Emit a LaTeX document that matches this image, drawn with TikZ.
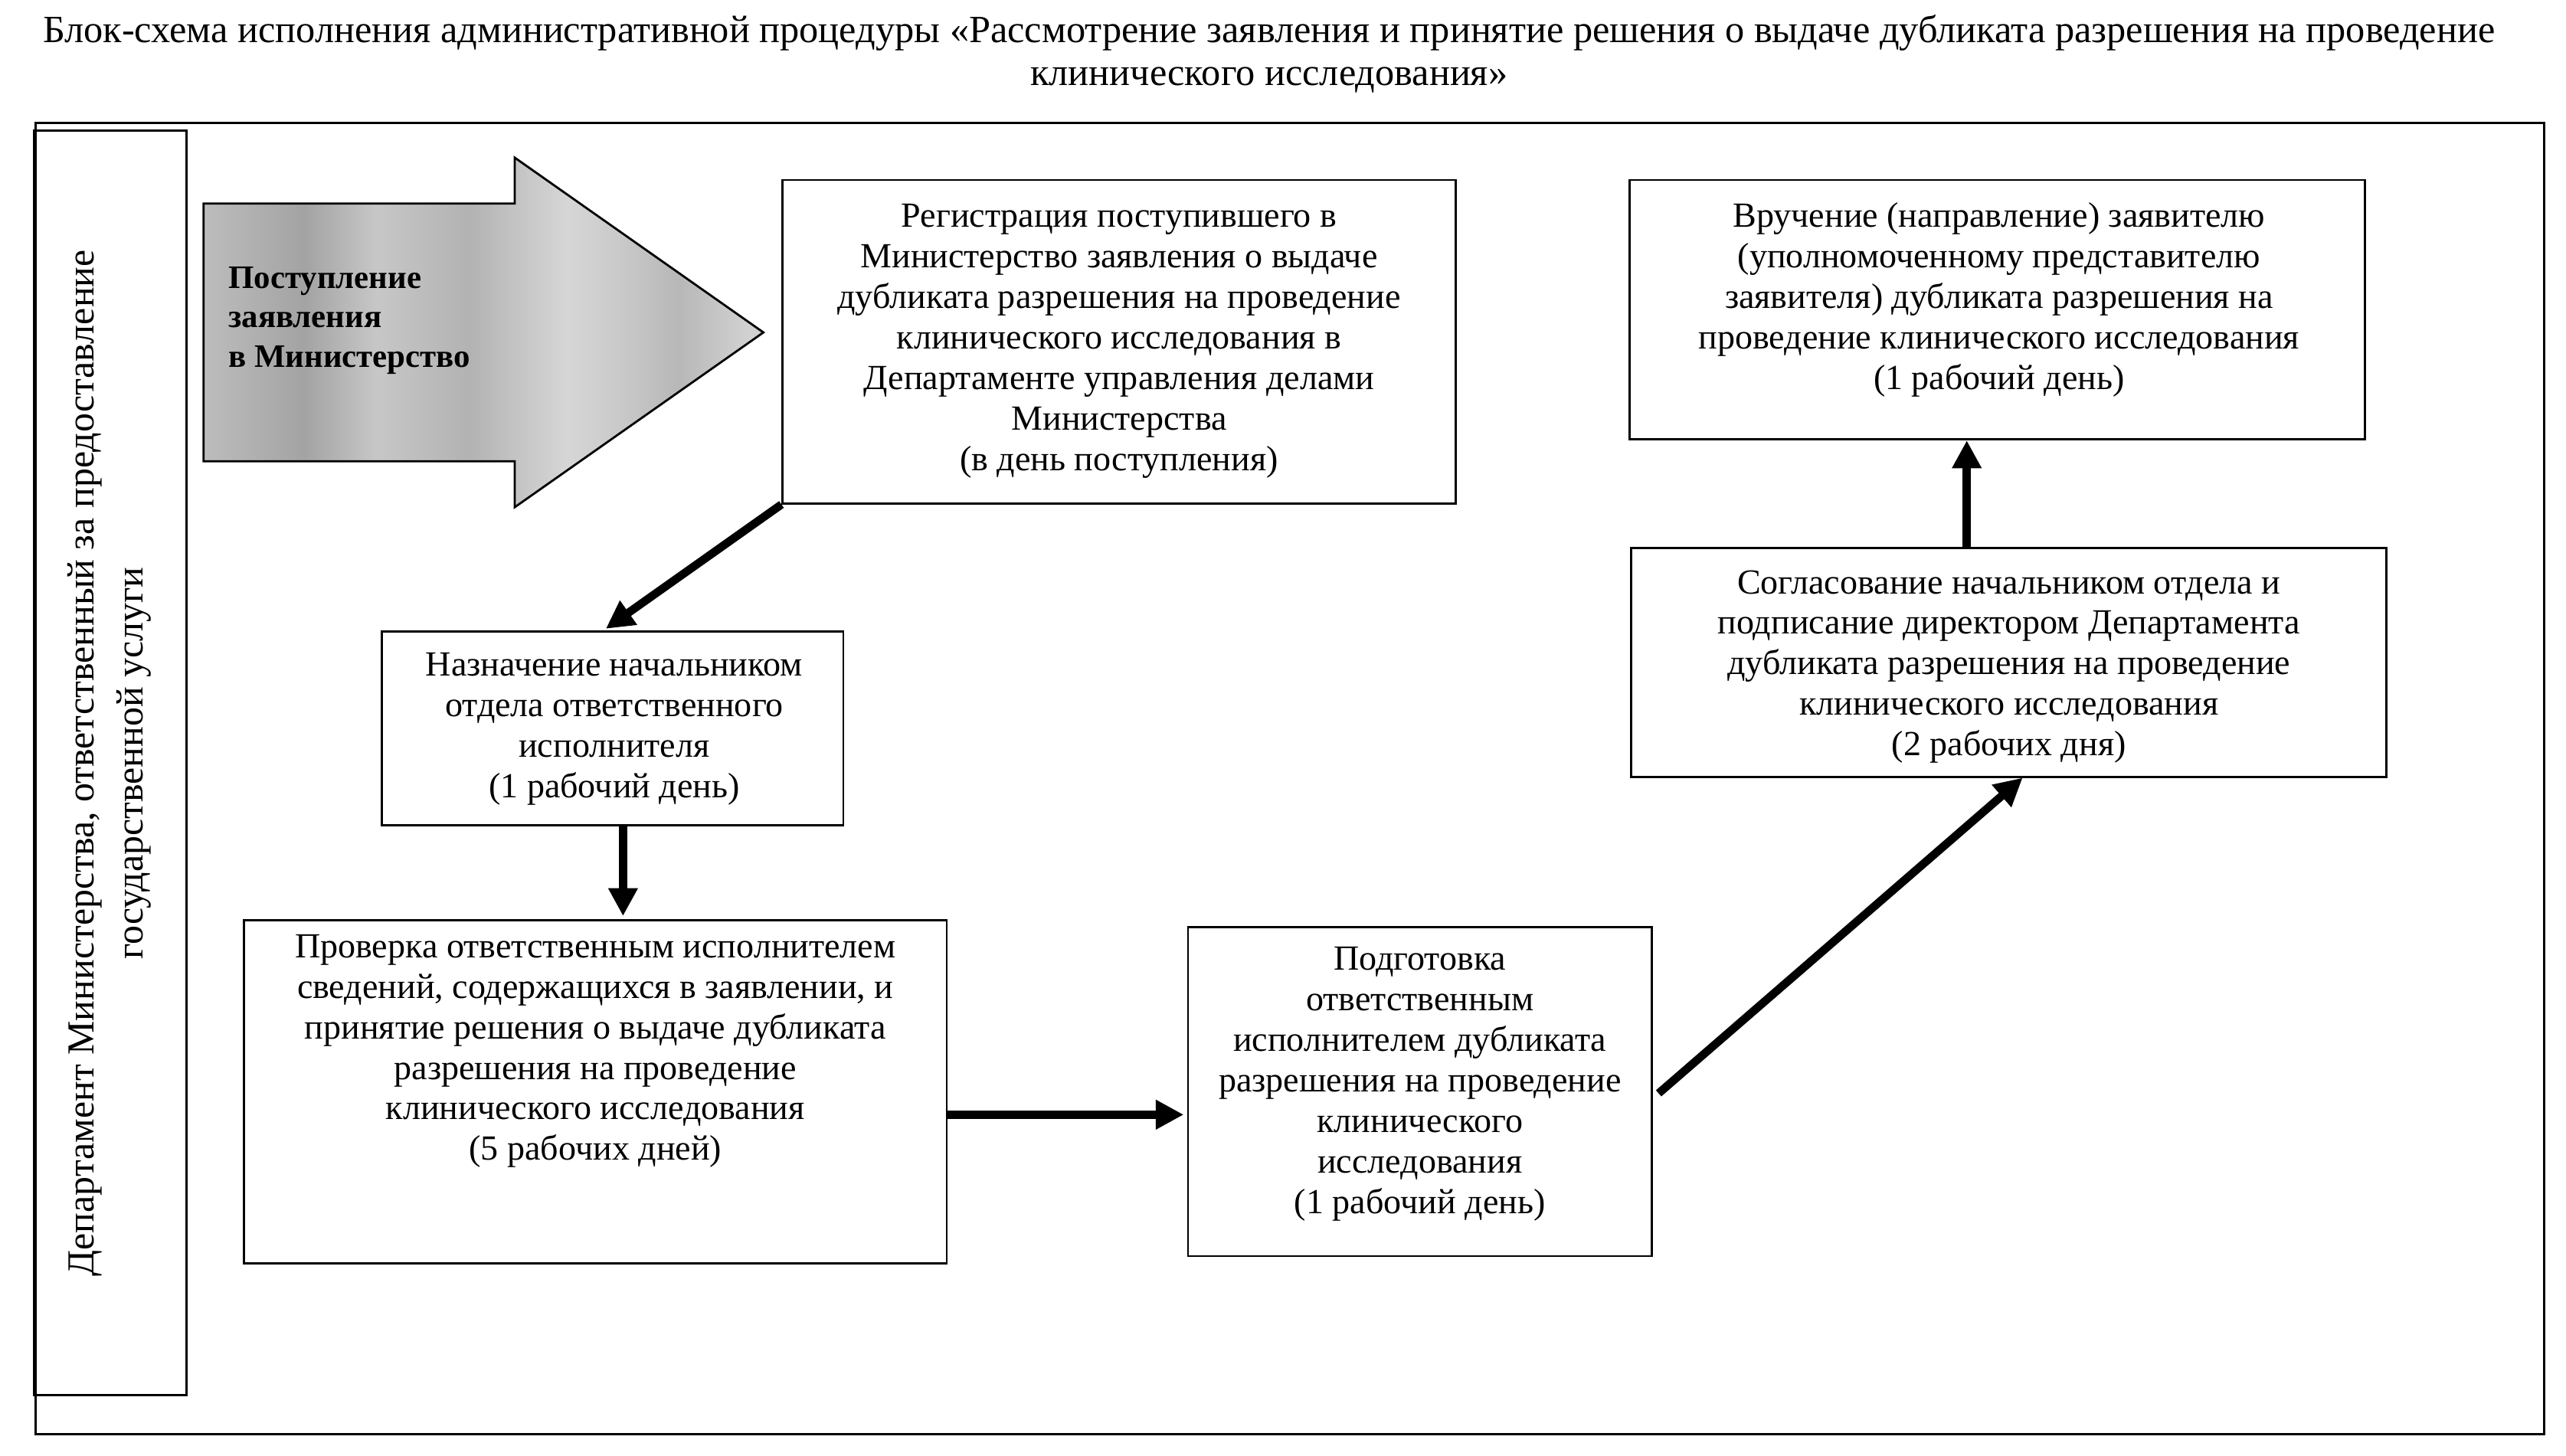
\documentclass[tikz,border=0pt]{standalone}
\usepackage{fontspec}
\setmainfont{Liberation Serif}
\usetikzlibrary{arrows.meta,calc}
\newcommand\bodyfont{\fontsize{21.5}{24.7}\selectfont}
\newcommand\titlefont{\fontsize{23.5}{26}\selectfont}
\newcommand\lanefont{\fontsize{23.3}{30}\selectfont}
\newcommand\arrowfont{\bfseries\fontsize{20}{24}\selectfont}
\pgfdeclarehorizontalshading{arrowtex}{100bp}{%
  color(0bp)=(black!38);
  color(6bp)=(black!42);
  color(12bp)=(black!28);
  color(19.4bp)=(black!40);
  color(25bp)=(black!26);
  color(34bp)=(black!36);
  color(40.5bp)=(black!22);
  color(48.7bp)=(black!30);
  color(57.5bp)=(black!16);
  color(63bp)=(black!22);
  color(67.4bp)=(black!28);
  color(73.6bp)=(black!18);
  color(81bp)=(black!22);
  color(90bp)=(black!14);
  color(100bp)=(black!12)}
\begin{document}
\begin{tikzpicture}[x=1pt,y=-1pt,
  box/.style={draw, line width=1.3pt, inner sep=0pt, anchor=north west},
  txt/.style={align=center, inner sep=0pt, anchor=north, font=\bodyfont},
  conn/.style={line width=5pt, -{Triangle[length=17pt,width=17pt]}}]
\useasboundingbox (0,0) rectangle (1563,886.5);

% title
\node[align=center, inner sep=0pt, anchor=north, font=\titlefont] (title) at (773,7.6)
  {\strut Блок-схема исполнения административной процедуры «Рассмотрение заявления и принятие решения о выдаче дубликата разрешения на проведение\\клинического исследования»};

% outer frame and lane
\node[box, line width=1.4pt, minimum width=1528pt, minimum height=799pt] (outer) at (21,74) {};
\node[box, line width=1.4pt, minimum width=93pt, minimum height=770pt] (lanebox) at (20,79) {};
\node[rotate=90, align=center, inner sep=0pt, font=\lanefont] (lane) at (66.5,465)
  {Департамент Министерства, ответственный за предоставление\\государственной услуги};

% big incoming arrow
\shade[shading=arrowtex]
  (124,124) -- (313.5,124) -- (313.5,96) -- (465,202.5) -- (313.5,309) -- (313.5,281) -- (124,281) -- cycle;
\draw[line width=1.3pt, line join=miter]
  (124,124) -- (313.5,124) -- (313.5,96) -- (465,202.5) -- (313.5,309) -- (313.5,281) -- (124,281) -- cycle;
\node[align=left, inner sep=0pt, anchor=north west, font=\arrowfont] (intext) at (139,158.5)
  {\strut Поступление\\заявления\\в Министерство};

% boxes
\node[box, minimum width=410pt, minimum height=197pt] (b1) at (476,109) {};
\node[txt] (t1) at ([yshift=-11.8pt]b1.north)
  {\strut Регистрация поступившего в\\Министерство заявления о выдаче\\дубликата разрешения на проведение\\клинического исследования в\\Департаменте управления делами\\Министерства\\(в день поступления)};

\node[box, minimum width=448pt, minimum height=158pt] (b5) at (992,109) {};
\node[txt] (t5) at ([yshift=-11.8pt, xshift=1pt]b5.north)
  {\strut Вручение (направление) заявителю\\(уполномоченному представителю\\заявителя) дубликата разрешения на\\проведение клинического исследования\\(1 рабочий день)};

\node[box, minimum width=281pt, minimum height=118pt] (b2) at (232,384) {};
\node[txt] (t2) at ([yshift=-10.3pt, xshift=1pt]b2.north)
  {\strut Назначение начальником\\отдела ответственного\\исполнителя\\(1 рабочий день)};

\node[box, minimum width=428pt, minimum height=209pt] (b3) at (148,560) {};
\node[txt] (t3) at ([yshift=-5.8pt]b3.north)
  {\strut Проверка ответственным исполнителем\\сведений, содержащихся в заявлении, и\\принятие решения о выдаче дубликата\\разрешения на проведение\\клинического исследования\\(5 рабочих дней)};

\node[box, minimum width=282.5pt, minimum height=200.5pt] (b4) at (723,564) {};
\node[txt] (t4) at ([yshift=-9.6pt]b4.north)
  {\strut Подготовка\\ответственным\\исполнителем дубликата\\разрешения на проведение\\клинического\\исследования\\(1 рабочий день)};

\node[box, minimum width=460pt, minimum height=139.5pt] (b6) at (993,333) {};
\node[txt] (t6) at ([yshift=-11.1pt]b6.north)
  {\strut Согласование начальником отдела и\\подписание директором Департамента\\дубликата разрешения на проведение\\клинического исследования\\(2 рабочих дня)};

% connectors
\draw[conn] (b1.south west) -- ($(b2.north west)+(137,-1)$);
\draw[conn] ($(b2.south west)+(147.5,0)$) -- ($(b3.north west)+(231.5,-2)$);
\draw[conn] ($(b3.north east)+(0,119)$) -- ($(b4.north west)+(-2,115)$);
\draw[conn] ($(b4.north east)+(3.5,102)$) -- ($(b6.south west)+(239,0)$);
\draw[conn] ($(b6.north west)+(205,0)$) -- ($(b5.south west)+(206,0)$);
\end{tikzpicture}
\end{document}
